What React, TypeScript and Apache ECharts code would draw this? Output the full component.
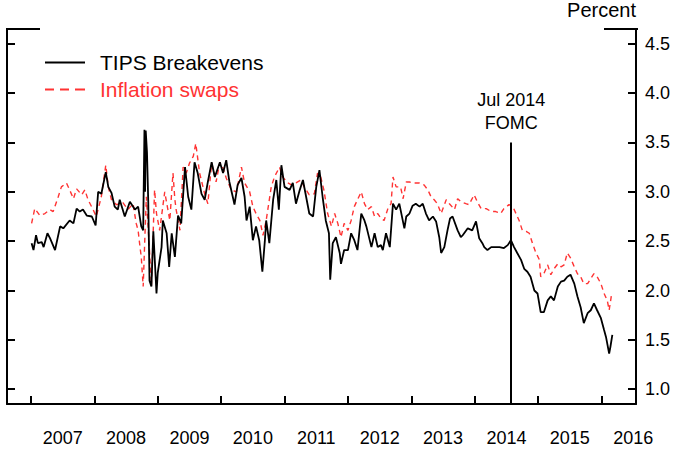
import React, { useEffect, useRef } from "react";
import * as echarts from "echarts";

// [decimal year, percent]
const tipsBreakevens: [number, number][] = [
  [2007.01, 2.48], [2007.04, 2.41], [2007.08, 2.56], [2007.11, 2.48], [2007.17, 2.49], [2007.2, 2.44],
  [2007.26, 2.58], [2007.3, 2.53], [2007.38, 2.41], [2007.46, 2.65], [2007.51, 2.63], [2007.61, 2.71],
  [2007.67, 2.68], [2007.72, 2.83], [2007.77, 2.8], [2007.82, 2.82], [2007.88, 2.76], [2007.96, 2.75],
  [2008.02, 2.66], [2008.06, 3.0], [2008.11, 2.98], [2008.18, 3.2], [2008.22, 3.05], [2008.27, 2.99],
  [2008.32, 2.85], [2008.37, 2.82], [2008.4, 2.92], [2008.48, 2.75], [2008.56, 2.9], [2008.64, 2.82],
  [2008.69, 2.85], [2008.74, 2.65], [2008.77, 2.61], [2008.79, 3.63], [2008.8, 3.0], [2008.81, 3.62],
  [2008.83, 3.4], [2008.85, 2.9], [2008.87, 2.1], [2008.9, 2.04], [2008.93, 2.6], [2008.98, 1.97],
  [2009.0, 2.18], [2009.06, 2.44], [2009.08, 2.71], [2009.14, 2.58], [2009.18, 2.24], [2009.22, 2.58],
  [2009.27, 2.34], [2009.32, 2.76], [2009.37, 2.68], [2009.43, 3.25], [2009.48, 2.95], [2009.53, 2.82],
  [2009.58, 3.3], [2009.63, 3.19], [2009.69, 2.98], [2009.74, 2.92], [2009.79, 3.1], [2009.85, 3.3],
  [2009.9, 3.15], [2009.98, 3.3], [2010.03, 3.19], [2010.08, 3.32], [2010.13, 3.1], [2010.19, 2.93],
  [2010.21, 2.87], [2010.26, 3.07], [2010.32, 3.14], [2010.37, 2.95], [2010.4, 2.71], [2010.45, 2.85],
  [2010.5, 2.51], [2010.55, 2.65], [2010.6, 2.51], [2010.65, 2.19], [2010.69, 2.51], [2010.71, 2.71],
  [2010.76, 2.48], [2010.82, 2.92], [2010.87, 3.12], [2010.91, 2.82], [2010.95, 3.27], [2011.0, 3.05],
  [2011.08, 3.02], [2011.13, 3.09], [2011.18, 2.88], [2011.24, 3.02], [2011.29, 3.12], [2011.34, 2.95],
  [2011.39, 2.78], [2011.45, 2.75], [2011.5, 3.05], [2011.55, 3.22], [2011.6, 2.95], [2011.65, 2.71],
  [2011.7, 2.58], [2011.72, 2.11], [2011.76, 2.48], [2011.81, 2.54], [2011.87, 2.38], [2011.89, 2.27],
  [2011.94, 2.41], [2012.0, 2.41], [2012.05, 2.58], [2012.1, 2.51], [2012.15, 2.41], [2012.21, 2.78],
  [2012.26, 2.71], [2012.29, 2.65], [2012.37, 2.44], [2012.42, 2.58], [2012.47, 2.44], [2012.52, 2.46],
  [2012.55, 2.41], [2012.6, 2.58], [2012.66, 2.44], [2012.71, 2.88], [2012.76, 2.82], [2012.81, 2.88],
  [2012.89, 2.63], [2012.92, 2.75], [2012.97, 2.78], [2013.02, 2.86], [2013.07, 2.88], [2013.13, 2.85],
  [2013.18, 2.88], [2013.23, 2.78], [2013.28, 2.71], [2013.34, 2.75], [2013.39, 2.7], [2013.44, 2.54],
  [2013.47, 2.38], [2013.52, 2.44], [2013.57, 2.61], [2013.61, 2.73], [2013.65, 2.75], [2013.73, 2.61],
  [2013.78, 2.54], [2013.81, 2.56], [2013.89, 2.63], [2013.96, 2.61], [2014.02, 2.7], [2014.07, 2.53],
  [2014.12, 2.48], [2014.15, 2.44], [2014.2, 2.41], [2014.26, 2.44], [2014.31, 2.44], [2014.39, 2.44],
  [2014.46, 2.43], [2014.52, 2.46], [2014.57, 2.51], [2014.62, 2.44], [2014.67, 2.38], [2014.73, 2.31],
  [2014.78, 2.22], [2014.83, 2.19], [2014.88, 2.14], [2014.94, 2.0], [2014.99, 1.97], [2015.04, 1.78],
  [2015.09, 1.78], [2015.15, 1.9], [2015.2, 1.94], [2015.25, 1.9], [2015.31, 2.04], [2015.36, 2.09],
  [2015.41, 2.1], [2015.46, 2.14], [2015.51, 2.16], [2015.57, 2.07], [2015.62, 1.94], [2015.67, 1.83],
  [2015.72, 1.67], [2015.78, 1.77], [2015.83, 1.8], [2015.88, 1.87], [2015.93, 1.8], [2015.99, 1.72],
  [2016.04, 1.6], [2016.07, 1.53], [2016.12, 1.36], [2016.14, 1.43], [2016.17, 1.55],
];

const inflationSwaps: [number, number][] = [
  [2007.01, 2.68], [2007.06, 2.83], [2007.14, 2.76], [2007.22, 2.78], [2007.3, 2.82], [2007.35, 2.8],
  [2007.43, 2.95], [2007.48, 3.05], [2007.56, 3.09], [2007.61, 3.02], [2007.67, 2.93], [2007.72, 3.03],
  [2007.8, 2.97], [2007.85, 3.02], [2007.9, 2.92], [2007.98, 2.82], [2008.03, 2.75], [2008.11, 2.95],
  [2008.18, 3.27], [2008.22, 3.05], [2008.27, 2.92], [2008.35, 2.87], [2008.45, 2.89], [2008.53, 2.82],
  [2008.61, 2.88], [2008.66, 2.68], [2008.69, 2.61], [2008.72, 2.44], [2008.74, 2.34], [2008.77, 2.04],
  [2008.8, 2.6], [2008.82, 2.95], [2008.87, 2.4], [2008.9, 2.05], [2008.95, 3.02], [2008.98, 2.78],
  [2009.03, 2.61], [2009.11, 3.0], [2009.14, 2.89], [2009.19, 2.71], [2009.24, 3.19], [2009.27, 2.92],
  [2009.29, 2.82], [2009.35, 2.61], [2009.4, 3.25], [2009.45, 3.19], [2009.5, 3.29], [2009.56, 3.36],
  [2009.6, 3.49], [2009.66, 3.19], [2009.74, 2.98], [2009.79, 2.88], [2009.85, 3.29], [2009.92, 3.1],
  [2009.98, 3.3], [2010.03, 3.24], [2010.08, 3.14], [2010.16, 3.02], [2010.24, 3.0], [2010.32, 3.25],
  [2010.37, 3.09], [2010.45, 3.0], [2010.5, 2.85], [2010.55, 2.78], [2010.61, 2.71], [2010.66, 2.56],
  [2010.71, 2.71], [2010.79, 3.05], [2010.84, 3.15], [2010.92, 3.25], [2010.97, 3.15], [2011.05, 3.09],
  [2011.11, 3.07], [2011.18, 3.09], [2011.26, 3.12], [2011.31, 3.05], [2011.39, 2.97], [2011.47, 2.98],
  [2011.52, 3.19], [2011.57, 3.15], [2011.62, 3.02], [2011.68, 2.78], [2011.74, 2.65], [2011.79, 2.78],
  [2011.84, 2.68], [2011.89, 2.54], [2011.94, 2.68], [2012.0, 2.61], [2012.05, 2.71], [2012.1, 2.85],
  [2012.15, 2.92], [2012.21, 3.0], [2012.26, 2.88], [2012.31, 2.82], [2012.37, 2.85], [2012.42, 2.75],
  [2012.47, 2.78], [2012.52, 2.73], [2012.57, 2.71], [2012.63, 2.83], [2012.68, 2.88], [2012.71, 3.15],
  [2012.76, 3.05], [2012.83, 3.05], [2012.87, 2.93], [2012.92, 3.1], [2012.97, 3.1], [2013.02, 3.09],
  [2013.07, 3.09], [2013.13, 3.09], [2013.2, 3.07], [2013.26, 3.02], [2013.31, 2.95], [2013.36, 2.92],
  [2013.41, 2.88], [2013.47, 2.78], [2013.55, 2.92], [2013.6, 2.88], [2013.68, 2.82], [2013.73, 2.93],
  [2013.78, 2.9], [2013.86, 2.88], [2013.91, 2.87], [2013.99, 2.97], [2014.04, 2.9], [2014.1, 2.83],
  [2014.18, 2.83], [2014.26, 2.8], [2014.33, 2.8], [2014.41, 2.78], [2014.46, 2.83], [2014.54, 2.87],
  [2014.6, 2.85], [2014.65, 2.78], [2014.7, 2.71], [2014.75, 2.61], [2014.81, 2.6], [2014.86, 2.58],
  [2014.91, 2.48], [2014.96, 2.39], [2015.02, 2.31], [2015.04, 2.14], [2015.09, 2.17], [2015.15, 2.26],
  [2015.2, 2.16], [2015.25, 2.22], [2015.31, 2.27], [2015.36, 2.24], [2015.41, 2.26], [2015.46, 2.38],
  [2015.51, 2.33], [2015.57, 2.24], [2015.62, 2.17], [2015.67, 2.14], [2015.72, 2.07], [2015.78, 2.07],
  [2015.83, 2.12], [2015.88, 2.17], [2015.93, 2.14], [2015.99, 2.07], [2016.04, 1.97], [2016.09, 1.9],
  [2016.12, 1.8], [2016.16, 1.97],
];

const yTicks = [1.0, 1.5, 2.0, 2.5, 3.0, 3.5, 4.0, 4.5];
const yearTicks = [2007, 2008, 2009, 2010, 2011, 2012, 2013, 2014, 2015, 2016];
const yearLabelPositions = [2007.5, 2008.5, 2009.5, 2010.5, 2011.5, 2012.5, 2013.5, 2014.5, 2015.5, 2016.5];
const fomcDate = 2014.575;
const fomcLineTop = 3.5;
const fomcLabel = "Jul 2014\nFOMC";
const xMin = 2006.622;
const xMax = 2016.543;
const yMin = 0.85;
const yMax = 4.65;

const FONT = "'Liberation Sans', Arial, Helvetica, sans-serif";
const RED = "#ff3333";
const SOLID_ICON = "path://M0,0h40v2h-40z";
const DASH_ICON = "path://M0,0h9v2h-9z M15,0h9v2h-9z M30,0h10v2h-10z";

export default function App() {
  const ref = useRef<HTMLDivElement>(null);
  useEffect(() => {
    if (!ref.current) return;
    const chart = echarts.init(ref.current, null, { renderer: "svg" });
    const axisLine = { show: true, lineStyle: { color: "#000", width: 2 } };
    const tick = { show: true, inside: true, length: 8, lineStyle: { color: "#000", width: 2 } };
    chart.setOption({
      animation: false,
      backgroundColor: "#fff",
      textStyle: { fontFamily: FONT },
      grid: { left: 7, right: 36, top: 29, bottom: 46, containLabel: false },
      legend: {
        orient: "vertical",
        left: 40,
        top: 47,
        itemWidth: 40,
        itemHeight: 2,
        itemGap: 6,
        selectedMode: false,
        textStyle: { fontSize: 21, fontFamily: FONT, padding: [0, 0, 0, 10] },
        data: [
          { name: "TIPS Breakevens", icon: SOLID_ICON, itemStyle: { color: "#000" }, textStyle: { color: "#000" } },
          { name: "Inflation swaps", icon: DASH_ICON, itemStyle: { color: RED }, textStyle: { color: RED } },
        ],
      },
      xAxis: {
        type: "value",
        min: xMin,
        max: xMax,
        axisLine,
        axisTick: { ...tick, customValues: yearTicks },
        splitLine: { show: false },
        axisLabel: {
          customValues: yearLabelPositions,
          formatter: (v: number) => String(Math.floor(v)),
          fontSize: 18,
          color: "#000",
          margin: 25,
        },
      },
      yAxis: [
        {
          type: "value",
          position: "right",
          min: yMin,
          max: yMax,
          axisLine,
          axisTick: { ...tick, customValues: yTicks },
          splitLine: { show: false },
          axisLabel: {
            customValues: yTicks,
            formatter: (v: number) => v.toFixed(1),
            fontSize: 18,
            color: "#000",
            margin: 9,
          },
        },
        {
          type: "value",
          position: "left",
          min: yMin,
          max: yMax,
          axisLine,
          axisTick: { ...tick, customValues: yTicks },
          splitLine: { show: false },
          axisLabel: { show: false },
        },
      ],
      graphic: [
        { type: "line", shape: { x1: 6, y1: 29, x2: 40, y2: 29 }, style: { stroke: "#000", lineWidth: 2 } },
        { type: "line", shape: { x1: 604, y1: 29, x2: 638, y2: 29 }, style: { stroke: "#000", lineWidth: 2 } },
        {
          type: "text",
          x: 636,
          y: 10,
          style: { text: "Percent", fontSize: 20, fontFamily: FONT, fill: "#000", align: "right", verticalAlign: "middle" },
        },
      ],
      series: [
        {
          name: "TIPS Breakevens",
          type: "line",
          yAxisIndex: 0,
          showSymbol: false,
          symbol: "none",
          data: tipsBreakevens,
          lineStyle: { color: "#000", width: 1.8 },
          itemStyle: { color: "#000" },
          z: 3,
          markLine: {
            silent: true,
            symbol: "none",
            lineStyle: { color: "#000", width: 2, type: "solid" },
            label: {
              show: true,
              position: "end",
              formatter: fomcLabel,
              fontSize: 18,
              lineHeight: 23,
              color: "#000",
              fontFamily: FONT,
              distance: 8,
            },
            data: [[{ coord: [fomcDate, yMin] }, { coord: [fomcDate, fomcLineTop] }]],
          },
        },
        {
          name: "Inflation swaps",
          type: "line",
          yAxisIndex: 0,
          showSymbol: false,
          symbol: "none",
          data: inflationSwaps,
          lineStyle: { color: RED, width: 1.4, type: [5, 4] },
          itemStyle: { color: RED },
          z: 2,
        },
      ],
    });
    return () => chart.dispose();
  }, []);
  return <div ref={ref} style={{ position: "fixed", left: 0, top: 0, width: 673, height: 450 }} />;
}
